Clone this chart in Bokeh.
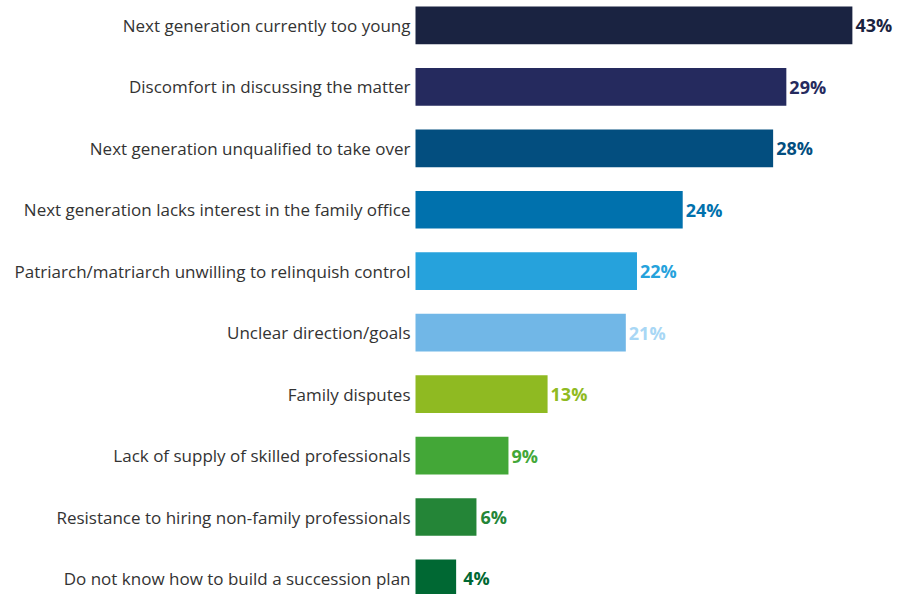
from bokeh.plotting import figure
from bokeh.models import ColumnDataSource, Range1d
from bokeh.core.properties import value
from bokeh.embed import file_html
from bokeh.resources import INLINE

categories = [
    "Next generation currently too young",
    "Discomfort in discussing the matter",
    "Next generation unqualified to take over",
    "Next generation lacks interest in the family office",
    "Patriarch/matriarch unwilling to relinquish control",
    "Unclear direction/goals",
    "Family disputes",
    "Lack of supply of skilled professionals",
    "Resistance to hiring non-family professionals",
    "Do not know how to build a succession plan",
]
# bar lengths as drawn in the picture
bar_values = [43.0, 36.5, 35.2, 26.3, 21.8, 20.7, 13.0, 9.15, 6.0, 4.0]
value_labels = ["43%", "29%", "28%", "24%", "22%", "21%", "13%", "9%", "6%", "4%"]
bar_colors = ["#1a2341", "#252a5e", "#034e7f", "#0071ad", "#26a2dc",
              "#71b7e7", "#8fba22", "#43a737", "#248537", "#006833"]
label_colors = ["#1a2341", "#252a5e", "#034e7f", "#0071ad", "#26a2dc",
                "#a8d7f5", "#8fba22", "#43a737", "#248537", "#006833"]
label_offsets = [3, 3, 3, 3, 3, 3, 3, 3, 4, 7]

idx = list(range(len(categories)))
src = ColumnDataSource(dict(y=idx, v=bar_values, cat=categories, lab=value_labels,
                            col=bar_colors, lcol=label_colors, off=label_offsets,
                            zero=[0] * len(idx)))

W, H = 902, 594
scale = 10.16
x0 = 415
pitch = 61.45
c1 = 24.9
p = figure(width=W, height=H, output_backend="svg", toolbar_location=None,
           x_range=Range1d(-x0 / scale, (W - x0) / scale),
           y_range=Range1d((H - c1) / pitch, -c1 / pitch),
           min_border=0, min_border_left=0, min_border_right=0,
           min_border_top=0, min_border_bottom=0)
p.axis.visible = False
p.grid.visible = False
p.outline_line_color = None
p.background_fill_color = "white"
p.border_fill_color = "white"

p.hbar(y="y", left=0, right="v", height=0.613, fill_color="col", line_color=None, source=src)

p.text(x="zero", y="y", text="cat", x_offset=-5, text_align="right", text_baseline="middle",
       text_font=value("Open Sans"), text_font_size="17px", text_color="#333333", source=src)

p.text(x="v", y="y", text="lab", x_offset="off", text_align="left", text_baseline="middle",
       text_font=value("Open Sans"), text_font_size="18px", text_font_style="bold",
       text_color="lcol", source=src)

open("out.html", "w").write(file_html(p, INLINE))
